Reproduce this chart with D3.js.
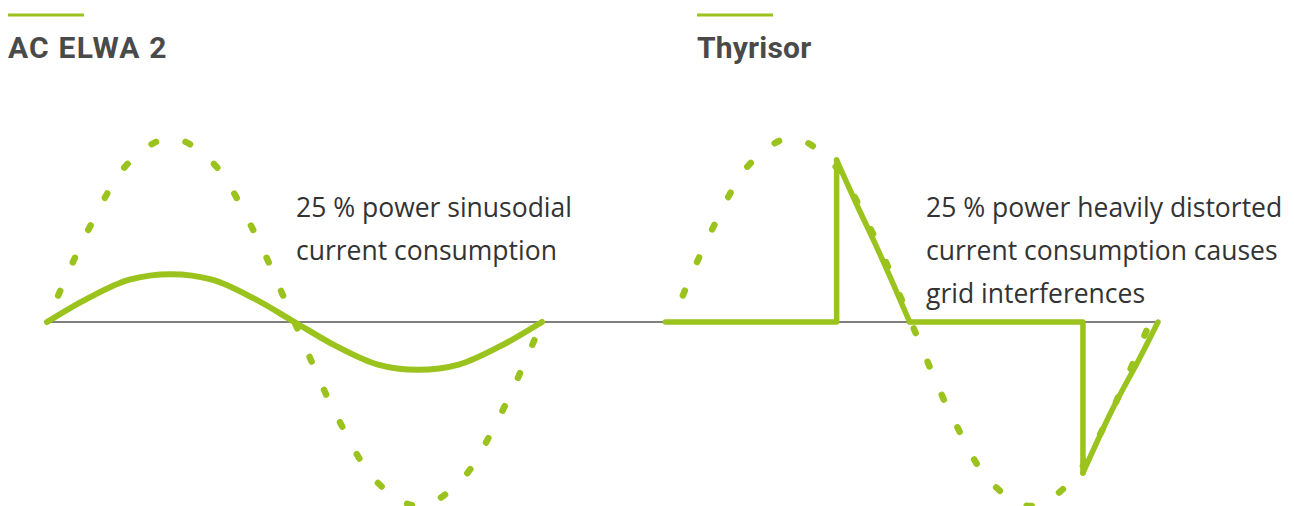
<!DOCTYPE html>
<html lang="en">
<head>
    <meta charset="UTF-8">
    <title>AC ELWA 2 vs Thyrisor</title>
    <style>
        body { margin: 0; background: #fff; }
    </style>
</head>
<body>
    <script src="https://d3js.org/d3.v7.min.js"></script>
    <script>
        // phase in degrees, amplitude relative to grid voltage
        var phase = [0, 30, 60, 90, 120, 150, 180, 210, 240, 270, 300, 330, 360]
        var gridVoltage = [0, 0.5, 0.87, 1, 0.87, 0.5, 0, -0.5, -0.87, -1, -0.87, -0.5, 0]
        var elwaCurrent = [0, 0.13, 0.23, 0.26, 0.23, 0.13, 0, -0.13, -0.23, -0.26, -0.23, -0.13, 0]

        // thyristor current as [phase, amplitude]
        var thyristorFlat = [[-5, 0], [124, 0], [124, 0.88]]
        var thyristorPos = [[124, 0.88], [139, 0.64], [154, 0.41], [167, 0.2], [179, 0]]
        var thyristorMid = [[179, 0], [309.5, 0], [309.5, -0.82]]
        var thyristorNeg = [[309.5, -0.82], [332, -0.47], [352, -0.2], [366, 0]]

        var titles = ['AC ELWA 2', 'Thyrisor']
        var notes = [
            ['25 % power sinusodial', 'current consumption'],
            ['25 % power heavily distorted', 'current consumption causes', 'grid interferences']
        ]

        var green = '#9bc31d'

        var svg = d3.select('body').append('svg')
            .attr('width', 1294)
            .attr('height', 506)

        var y = d3.scaleLinear().domain([-1, 1]).range([506, 138])
        var xLeft = d3.scaleLinear().domain([0, 360]).range([47, 542])
        var xRight = d3.scaleLinear().domain([0, 360]).range([672, 1150])

        // baseline
        svg.append('line')
            .attr('x1', xLeft(0)).attr('x2', xRight(366))
            .attr('y1', y(0)).attr('y2', y(0))
            .attr('stroke', '#555').attr('stroke-width', 1.5)

        function dashed(x) {
            var line = d3.line()
                .x(function (d, i) { return x(phase[i]) })
                .y(function (d) { return y(d) })
                .curve(d3.curveCatmullRom)
            svg.append('path')
                .attr('d', line(gridVoltage))
                .attr('fill', 'none')
                .attr('stroke', green)
                .attr('stroke-width', 6.5)
                .attr('stroke-linecap', 'round')
                .attr('stroke-dasharray', '5,31')
                .attr('stroke-dashoffset', 7)
        }
        dashed(xLeft)
        dashed(xRight)

        // sinusoidal current of the AC ELWA 2
        svg.append('path')
            .attr('d', d3.line()
                .x(function (d, i) { return xLeft(phase[i]) })
                .y(function (d) { return y(d) })
                .curve(d3.curveCatmullRom)(elwaCurrent))
            .attr('fill', 'none')
            .attr('stroke', green)
            .attr('stroke-width', 6)
            .attr('stroke-linecap', 'round')

        // chopped thyristor current
        var straight = d3.line()
            .x(function (d) { return xRight(d[0]) })
            .y(function (d) { return y(d[1]) })
        var bent = d3.line()
            .x(function (d) { return xRight(d[0]) })
            .y(function (d) { return y(d[1]) })
            .curve(d3.curveCatmullRom)
        var pieces = [
            straight(thyristorFlat), bent(thyristorPos),
            straight(thyristorMid), bent(thyristorNeg)
        ]
        svg.selectAll('.thy').data(pieces).enter().append('path')
            .attr('class', 'thy')
            .attr('d', function (d) { return d })
            .attr('fill', 'none')
            .attr('stroke', green)
            .attr('stroke-width', 5.5)
            .attr('stroke-linecap', 'round')
            .attr('stroke-linejoin', 'round')

        // titles
        var titleX = [8, 697]
        var spacing = [1.2, 0.2]
        titles.forEach(function (t, i) {
            svg.append('line')
                .attr('x1', titleX[i]).attr('x2', titleX[i] + 76)
                .attr('y1', 15).attr('y2', 15)
                .attr('stroke', green).attr('stroke-width', 3)
            svg.append('text')
                .attr('x', titleX[i]).attr('y', 58)
                .attr('font-family', 'Roboto, sans-serif')
                .attr('font-weight', 'bold')
                .attr('font-size', 30)
                .attr('letter-spacing', spacing[i])
                .attr('fill', '#4a4a4a')
                .text(t)
        })

        // notes
        var noteX = [296, 926]
        notes.forEach(function (lines, i) {
            svg.append('g').selectAll('text').data(lines).enter().append('text')
                .attr('x', noteX[i])
                .attr('y', function (d, j) { return 217 + j * 43 })
                .attr('font-family', '"Open Sans", sans-serif')
                .attr('font-size', 26.5)
                .attr('fill', '#333')
                .text(function (d) { return d })
        })
    </script>
</body>
</html>
